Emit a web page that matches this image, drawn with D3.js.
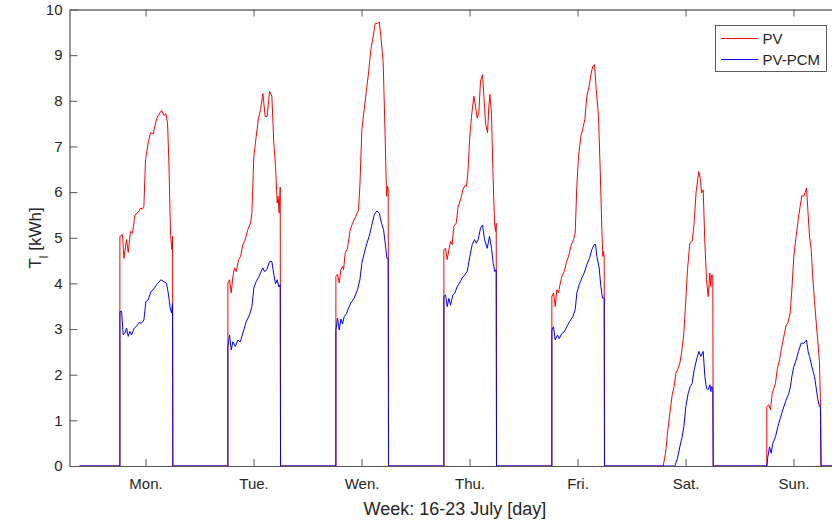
<!DOCTYPE html>
<html lang="en">
<head>
<meta charset="UTF-8">
<script src="https://d3js.org/d3.v7.min.js"></script>
<style>
  body { margin: 0; background: #fff; }
  svg { font-family: "Liberation Sans", Arial, Helvetica, sans-serif; }
</style>
<title>PV vs PV-PCM</title>
</head>
<body>
<div id="chart"></div>
<script>
// day tick labels (tick at noon of each day)
const days = ["Mon.", "Tue.", "Wen.", "Thu.", "Fri.", "Sat.", "Sun."];
const yTicks = [0, 1, 2, 3, 4, 5, 6, 7, 8, 9, 10];

// [hour of day, kWh], PV
const pvMon = [[6.3,0],[6.3,5.03],[6.89,5.07],[7.19,4.55],[7.78,4.96],[8.15,4.68],[8.67,5.14],[9.11,5.1],[9.63,5.5],[10.37,5.56],[10.96,5.65],[11.33,5.63],[11.63,5.69],[12.0,6.71],[12.59,7.08],[13.11,7.3],[13.7,7.28],[14.44,7.6],[14.96,7.7],[15.56,7.79],[16.07,7.68],[16.52,7.72],[16.89,7.51],[17.19,6.64],[17.56,5.07],[17.85,4.74],[18.0,5.03],[18.07,0]];
const pvTue = [[6.3,0],[6.3,4.01],[6.67,4.08],[7.04,3.79],[7.41,4.15],[7.78,4.34],[8.15,4.26],[8.67,4.52],[9.11,4.59],[9.63,4.85],[10.15,4.96],[10.74,5.18],[11.33,5.32],[11.63,5.54],[12.07,6.78],[12.59,7.22],[13.11,7.62],[13.56,7.81],[14.07,8.16],[14.59,7.65],[15.04,7.66],[15.56,8.21],[16.07,8.1],[16.52,7.04],[16.89,6.56],[17.26,5.76],[17.48,5.91],[17.7,5.54],[17.93,6.11],[18.0,0]];
const pvWen = [[6.3,0],[6.3,4.15],[6.67,4.2],[7.04,4.01],[7.41,4.3],[7.78,4.37],[8.0,4.3],[8.37,4.66],[8.89,4.77],[9.41,5.14],[10.0,5.32],[10.74,5.47],[11.33,5.61],[11.63,6.13],[12.07,7.37],[12.59,7.81],[13.11,8.25],[13.56,8.61],[14.07,9.12],[14.59,9.41],[15.04,9.69],[15.56,9.69],[15.93,9.73],[16.3,9.41],[16.81,8.83],[17.19,7.44],[17.56,5.91],[17.78,6.13],[17.93,6.06],[18.0,0]];
const pvThu = [[6.3,0],[6.3,4.74],[6.67,4.77],[7.04,4.52],[7.41,4.74],[7.78,4.92],[8.15,4.85],[8.52,5.25],[9.04,5.32],[9.48,5.69],[10.0,5.83],[10.52,6.05],[10.96,6.14],[11.33,6.13],[11.63,6.42],[12.07,7.22],[12.44,7.66],[12.96,8.1],[13.33,7.88],[13.7,7.62],[14.07,7.73],[14.44,8.43],[14.89,8.57],[15.19,8.1],[15.56,7.51],[16.0,7.3],[16.3,7.88],[16.52,8.14],[16.89,7.7],[17.19,6.49],[17.56,5.32],[17.78,5.14],[17.93,5.32],[18.0,0]];
const pvFri = [[6.3,0],[6.3,3.71],[6.67,3.79],[7.04,3.49],[7.41,3.86],[7.78,3.79],[8.0,3.93],[8.52,4.15],[9.04,4.26],[9.48,4.44],[10.0,4.59],[10.52,4.81],[11.11,4.96],[11.48,5.1],[11.85,6.13],[12.22,6.78],[12.74,7.22],[13.19,7.4],[13.63,7.59],[14.07,8.1],[14.59,8.32],[15.04,8.61],[15.41,8.76],[15.78,8.79],[16.15,8.25],[16.67,7.66],[17.04,6.49],[17.41,5.18],[17.63,4.59],[17.78,4.7],[17.93,4.59],[18.0,0]];
const pvSat = [[7.04,0],[7.56,0.28],[8.0,0.72],[8.52,1.15],[9.04,1.56],[9.48,1.74],[9.85,2.03],[10.37,2.14],[10.74,2.25],[11.11,2.47],[11.63,2.91],[12.07,3.64],[12.44,4.3],[12.96,4.88],[13.48,4.92],[13.85,5.25],[14.37,6.02],[14.96,6.45],[15.33,6.27],[15.56,5.98],[15.93,6.05],[16.3,4.88],[16.67,4.08],[17.04,3.71],[17.41,4.23],[17.63,3.93],[17.78,4.18],[18.07,4.18],[18.15,0]];
const pvSun = [[6.07,0],[6.07,1.3],[6.52,1.34],[6.89,1.23],[7.26,1.59],[7.63,1.7],[8.0,1.81],[8.37,2.11],[8.89,2.32],[9.41,2.62],[10.0,2.91],[10.37,3.09],[10.74,3.13],[11.26,3.35],[11.63,3.86],[12.07,4.59],[12.59,5.03],[13.04,5.39],[13.48,5.69],[13.85,5.92],[14.3,5.91],[14.59,5.99],[14.89,6.09],[15.19,5.61],[15.56,5.03],[15.93,4.74],[16.3,4.1],[16.67,3.62],[17.04,3.15],[17.41,2.72],[17.78,2.26],[18.0,1.3],[18.12,0]];

// PV-PCM
const pcmMon = [[6.3,0],[6.3,3.38],[6.67,3.39],[7.04,2.87],[7.41,2.91],[7.78,3.02],[8.15,2.84],[8.52,2.95],[8.89,2.87],[9.48,3.02],[10.0,3.06],[10.52,3.14],[11.11,3.13],[11.63,3.2],[12.07,3.6],[12.59,3.64],[13.19,3.82],[13.7,3.86],[14.44,3.97],[15.41,4.08],[16.07,4.04],[16.67,4.0],[17.04,3.79],[17.48,3.46],[17.78,3.35],[18.0,3.57],[18.07,0]];
const pcmTue = [[6.3,0],[6.3,2.62],[6.67,2.87],[7.04,2.54],[7.41,2.72],[7.93,2.62],[8.52,2.76],[9.04,2.72],[9.63,2.91],[10.37,3.16],[11.11,3.31],[11.63,3.49],[12.07,3.9],[12.59,4.04],[13.19,4.15],[13.56,4.23],[14.07,4.34],[14.44,4.26],[14.96,4.3],[15.56,4.48],[16.07,4.48],[16.52,4.19],[16.89,3.99],[17.26,4.08],[17.63,3.92],[17.93,3.97],[18.0,0]];
const pcmWen = [[6.3,0],[6.3,2.98],[6.67,3.24],[7.04,2.98],[7.41,3.22],[7.78,3.11],[8.15,3.27],[8.67,3.34],[9.11,3.46],[9.63,3.57],[10.37,3.68],[11.11,3.86],[11.63,4.08],[12.07,4.44],[12.59,4.66],[13.19,4.88],[13.7,5.03],[14.22,5.25],[14.81,5.5],[15.41,5.59],[15.93,5.54],[16.44,5.32],[16.89,5.18],[17.26,4.88],[17.63,4.55],[17.93,4.55],[18.0,0]];
const pcmThu = [[6.3,0],[6.3,3.71],[6.67,3.75],[7.04,3.49],[7.41,3.67],[7.78,3.52],[8.3,3.75],[8.74,3.79],[9.26,3.93],[9.78,4.01],[10.37,4.12],[10.96,4.19],[11.48,4.26],[12.07,4.59],[12.59,4.85],[13.11,4.96],[13.48,4.88],[13.93,4.96],[14.44,5.21],[14.89,5.28],[15.33,4.96],[15.93,4.77],[16.44,5.03],[16.89,4.77],[17.26,4.44],[17.63,4.26],[17.93,4.3],[18.0,0]];
const pcmFri = [[6.3,0],[6.3,2.98],[6.67,3.05],[7.04,2.76],[7.56,2.87],[7.93,2.79],[8.52,2.9],[9.04,2.94],[9.63,3.05],[10.22,3.16],[10.96,3.27],[11.48,3.42],[11.85,3.79],[12.37,3.97],[12.96,4.12],[13.48,4.23],[14.07,4.41],[14.67,4.55],[15.19,4.74],[15.7,4.85],[16.0,4.85],[16.3,4.59],[16.81,4.34],[17.19,3.93],[17.56,3.68],[17.93,3.68],[18.0,0]];
const pcmSat = [[9.63,0],[10.22,0.17],[10.74,0.42],[11.26,0.64],[11.63,0.86],[12.07,1.3],[12.59,1.59],[13.04,1.74],[13.48,1.81],[13.93,2.11],[14.44,2.32],[14.96,2.51],[15.41,2.4],[15.93,2.51],[16.3,1.96],[16.67,1.7],[17.04,1.67],[17.41,1.78],[17.63,1.63],[17.78,1.74],[18.07,1.72],[18.15,0]];
const pcmSun = [[6.07,0],[6.3,0.2],[6.67,0.42],[7.04,0.28],[7.41,0.5],[8.0,0.64],[8.52,0.86],[9.04,1.04],[9.63,1.23],[10.22,1.41],[10.96,1.59],[11.33,1.74],[11.63,1.96],[12.07,2.18],[12.59,2.32],[13.11,2.51],[13.7,2.69],[14.3,2.69],[14.89,2.76],[15.26,2.5],[15.56,2.4],[16.15,2.15],[16.67,1.96],[17.41,1.45],[17.78,1.3],[18.0,1.3],[18.12,0]];

const dataStart = -2.67; // hours before Monday 0:00
const dataEnd = 165;

// join the days into one week-long series (hours since Monday 0:00)
function week(dayArrays) {
    const pts = [[dataStart, 0]];
    dayArrays.forEach((d, i) => d.forEach(([h, v]) => pts.push([i * 24 + h, v])));
    pts.push([dataEnd, 0]);
    return pts;
}

const pv = week([pvMon, pvTue, pvWen, pvThu, pvFri, pvSat, pvSun]);
const pcm = week([pcmMon, pcmTue, pcmWen, pcmThu, pcmFri, pcmSat, pcmSun]);

const width = 832, height = 525;
const plot = { left: 69.5, right: 834, top: 9.5, bottom: 466 };

const svg = d3.select("#chart").append("svg")
    .attr("width", width)
    .attr("height", height);

const x = d3.scaleLinear().domain([-4.9, 165]).range([plot.left, plot.right]);
const y = d3.scaleLinear().domain([0, 10]).range([plot.bottom, plot.top]);

svg.append("clipPath").attr("id", "plot")
    .append("rect")
    .attr("x", plot.left).attr("y", plot.top)
    .attr("width", plot.right - plot.left).attr("height", plot.bottom - plot.top);

const line = d3.line()
    .x(d => x(d[0]))
    .y(d => y(d[1]));

const lines = svg.append("g").attr("clip-path", "url(#plot)");
lines.append("path").datum(pv)
    .attr("d", line).attr("fill", "none")
    .attr("stroke", "#ff0000").attr("stroke-width", 1);
lines.append("path").datum(pcm)
    .attr("d", line).attr("fill", "none")
    .attr("stroke", "#0000ff").attr("stroke-width", 1);

// axes
const dayTicks = days.map((d, i) => 12 + i * 24);

const xAxis = svg.append("g")
    .attr("transform", `translate(0,${plot.bottom})`)
    .call(d3.axisBottom(x).tickValues(dayTicks)
        .tickFormat((d, i) => days[i])
        .tickSizeInner(-7).tickSizeOuter(0).tickPadding(12));

const topAxis = svg.append("g")
    .attr("transform", `translate(0,${plot.top})`)
    .call(d3.axisTop(x).tickValues(dayTicks)
        .tickFormat("")
        .tickSizeInner(-7).tickSizeOuter(0));

const yAxis = svg.append("g")
    .attr("transform", `translate(${plot.left},0)`)
    .call(d3.axisLeft(y).tickValues(yTicks)
        .tickSizeInner(-8).tickSizeOuter(0).tickPadding(7));

[xAxis, topAxis, yAxis].forEach(g => {
    g.select(".domain").attr("stroke", "#555").attr("stroke-width", 1.2);
    g.selectAll(".tick line").attr("stroke", "#555");
    g.selectAll(".tick text")
        .attr("fill", "#262626")
        .style("font-size", "15px")
        .style("font-family", "'Liberation Sans', Arial, sans-serif");
});
topAxis.select(".domain").attr("stroke", "#262626").attr("stroke-width", 1);

// axis titles
const yLabel = svg.append("text")
    .attr("transform", "translate(41,238) rotate(-90)")
    .attr("text-anchor", "middle")
    .attr("fill", "#262626")
    .style("font-size", "17px");
yLabel.append("tspan").text("T");
yLabel.append("tspan").text("l").attr("baseline-shift", "sub").style("font-size", "12px");
yLabel.append("tspan").text(" [kWh]");

svg.append("text")
    .attr("x", 455).attr("y", 515)
    .attr("text-anchor", "middle")
    .attr("fill", "#262626")
    .style("font-size", "18px")
    .text("Week: 16-23 July [day]");

// legend
const legendItems = [
    { name: "PV", color: "#ff0000" },
    { name: "PV-PCM", color: "#0000ff" }
];
const legend = svg.append("g").attr("transform", "translate(715.5,25.5)");
legend.append("rect")
    .attr("width", 111).attr("height", 46)
    .attr("fill", "#fff").attr("stroke", "#333").attr("stroke-width", 0.8);
legend.selectAll("g.item")
    .data(legendItems)
    .join("g")
    .attr("class", "item")
    .attr("transform", (d, i) => `translate(0,${13 + i * 21})`)
    .each(function(d) {
        const g = d3.select(this);
        g.append("line")
            .attr("x1", 5.5).attr("x2", 42.5)
            .attr("stroke", d.color).attr("stroke-width", 1);
        g.append("text")
            .attr("x", 47).attr("dy", "0.35em")
            .attr("fill", "#262626")
            .style("font-size", "15px")
            .text(d.name);
    });
</script>
</body>
</html>
